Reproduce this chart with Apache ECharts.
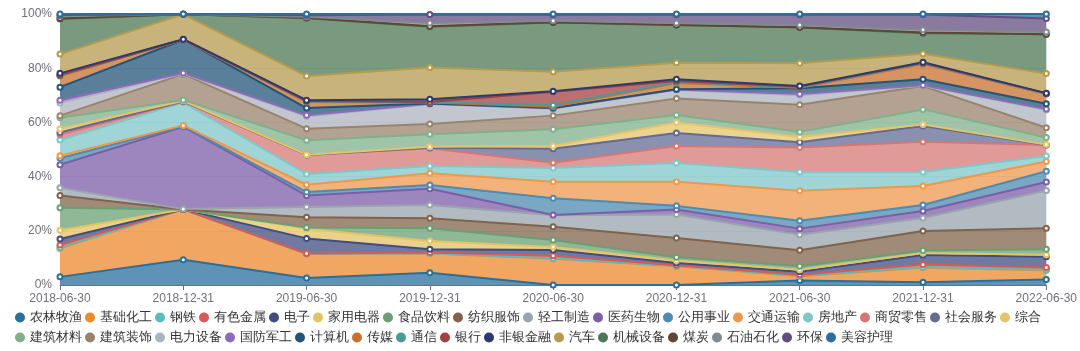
<!DOCTYPE html>
<html><head><meta charset="utf-8">
<script src="https://cdn.jsdelivr.net/npm/echarts@6/dist/echarts.min.js"></script>
<style>html,body{margin:0;padding:0;background:#fff}#c{width:1080px;height:351px}</style>
</head><body><div id="c"></div>
<script>
const categories = ['2018-06-30','2018-12-31','2019-06-30','2019-12-31','2020-06-30','2020-12-31','2021-06-30','2021-12-31','2022-06-30'];
const yTicks = [0,20,40,60,80,100];
const names = ['农林牧渔','基础化工','钢铁','有色金属','电子','家用电器','食品饮料','纺织服饰','轻工制造','医药生物','公用事业','交通运输','房地产','商贸零售','社会服务','综合',
  '建筑材料','建筑装饰','电力设备','国防军工','计算机','传媒','通信','银行','非银金融','汽车','机械设备','煤炭','石油石化','环保','美容护理'];
const agri   = [3.0, 9.3, 2.6, 4.5, 0, 0, 1.7, 1.0, 2.0];
const chem   = [10.5, 18.6, 8.8, 7.1, 9.7, 6.9, 1.5, 5.4, 3.4];
const steel  = [0.3, 0, 0.1, 0.1, 0.2, 0.1, 0.2, 0.2, 0.2];
const metal  = [1.0, 0, 0.1, 0.3, 0.9, 0.3, 0.4, 1.0, 0.9];
const elec   = [2.2, 0, 5.6, 1.2, 2.1, 0.8, 1.1, 3.5, 3.9];
const appl   = [3.2, 0, 3.6, 3.0, 1.1, 0.9, 0.7, 0.7, 0.8];
const food   = [8.3, 0, 0.4, 4.7, 2.6, 1.2, 1.3, 0.9, 2.0];
const textile= [4.5, 0, 3.8, 3.7, 4.9, 7.1, 5.9, 7.2, 7.7];
const light  = [2.9, 0.1, 3.8, 4.9, 4.2, 8.7, 5.7, 4.8, 14.0];
const pharma = [8.5, 30.4, 4.2, 6.0, 0.1, 1.9, 2.3, 2.6, 3.1];
const util   = [2.4, 0.2, 1.3, 1.4, 6.2, 1.3, 2.9, 2.2, 4.0];
const trans  = [0.9, 0.3, 2.7, 4.3, 6.1, 8.9, 11.1, 7.0, 3.6];
const estate = [5.8, 8.4, 4.0, 2.7, 5.1, 6.9, 6.9, 5.2, 2.0];
const retail = [2.0, 0.3, 7.0, 6.6, 1.9, 6.3, 9.0, 11.2, 4.1];
const social = [0.8, 0.2, 0, 0.1, 5.2, 4.8, 2.0, 5.8, 0];
const multi  = [1.3, 0.2, 0.1, 0.4, 1.0, 3.9, 1.9, 0.5, 0.1];
const bmat   = [4.1, 0.3, 5.3, 4.6, 6.2, 2.7, 1.9, 5.6, 2.6];
const bdeco  = [0.8, 9.5, 4.3, 3.8, 5.0, 6.1, 10.0, 8.6, 3.6];
const power  = [4.7, 0.2, 4.5, 7.4, 2.5, 3.2, 3.5, 0.1, 6.6];
const defense= [1.0, 0.2, 0.4, 0.1, 0.2, 0.1, 0.5, 0.2, 0.3];
const comp   = [4.8, 12.3, 2.7, 0.1, 0.1, 0.1, 2.1, 2.2, 2.0];
const media  = [4.1, 0, 2.2, 0.3, 0.5, 2.3, 0.2, 5.6, 3.6];
const telecom= [0.2, 0.1, 0.2, 0.1, 0.5, 0.3, 0.2, 0.3, 0.1];
const bank   = [0.2, 0, 0.2, 0.1, 5.0, 0.5, 0.2, 0.2, 0.1];
const nonbank= [0.6, 0.1, 0.3, 1.0, 0.2, 0.6, 0.2, 0.2, 0.1];
const auto   = [7.1, 9.2, 8.9, 11.8, 7.2, 6.1, 8.4, 3.1, 7.2];
const mach   = [13.0, 0, 21.3, 15.0, 18.2, 13.9, 13.2, 7.6, 14.5];
const coal   = [0.1, 0, 0.2, 0.2, 0.1, 0, 0.1, 0.3, 0];
const petro  = [1.0, 0, 0.4, 1.2, 0.5, 0.8, 0.8, 1.0, 0.9];
const envir  = [0.3, 0, 0.5, 3.1, 2.2, 3.0, 3.8, 5.6, 4.9];
const beauty = [0.4, 0.1, 0.5, 0.3, 0.3, 0.3, 0.3, 0.2, 1.7];
const values = [agri,chem,steel,metal,elec,appl,food,textile,light,pharma,util,trans,estate,retail,social,multi,
  bmat,bdeco,power,defense,comp,media,telecom,bank,nonbank,auto,mach,coal,petro,envir,beauty];

const colors = ['#296f9c','#ec8a2c','#5bbcbc','#d65a55','#404d80','#e3c363','#69a073','#80634b','#9aa4ae','#7b5ea7','#4d8bb0','#ed984d','#7fc7c8','#d57875','#636b95','#e6c46b',
  '#80b08b','#99836d','#adb4bf','#8c6bb8','#235478','#c7702e','#4a9a98','#a04040','#2e3a6e','#b59b4d','#4d7855','#5e4634','#808890','#634d80','#2e6e9e'];

const chart = echarts.init(document.getElementById('c'), null, {renderer:'canvas'});
const series = names.map((n,i)=>({
  name:n, type:'line', stack:'total', data:values[i],
  symbol:'emptyCircle', symbolSize:5, showSymbol:true,
  lineStyle:{width:2, color:colors[i]},
  itemStyle:{color:colors[i], borderWidth:1.5},
  areaStyle:{color:colors[i], opacity:0.75},
  emphasis:{disabled:true}
}));
const legendCommon = {icon:'circle', itemWidth:10, itemHeight:10, itemGap:3, left:10,
  textStyle:{fontSize:13, color:'#333'}};
chart.setOption({
  animation:false,
  color:colors,
  grid:{left:60, right:33, top:14, bottom:66},
  legend:[
    Object.assign({data:names.slice(0,16), top:306}, legendCommon),
    Object.assign({data:names.slice(16), top:326}, legendCommon)
  ],
  xAxis:{type:'category', data:categories, boundaryGap:false,
    axisTick:{show:true, alignWithLabel:true}, axisLine:{lineStyle:{color:'#6e7079'}},
    axisLabel:{color:'#6e7079', fontSize:12}},
  yAxis:{type:'value', min:yTicks[0], max:yTicks[yTicks.length-1], interval:20,
    axisLabel:{formatter:'{value}%', color:'#6e7079', fontSize:12},
    splitLine:{lineStyle:{color:'#e0e6f1'}}},
  series:series
});
</script></body></html>
